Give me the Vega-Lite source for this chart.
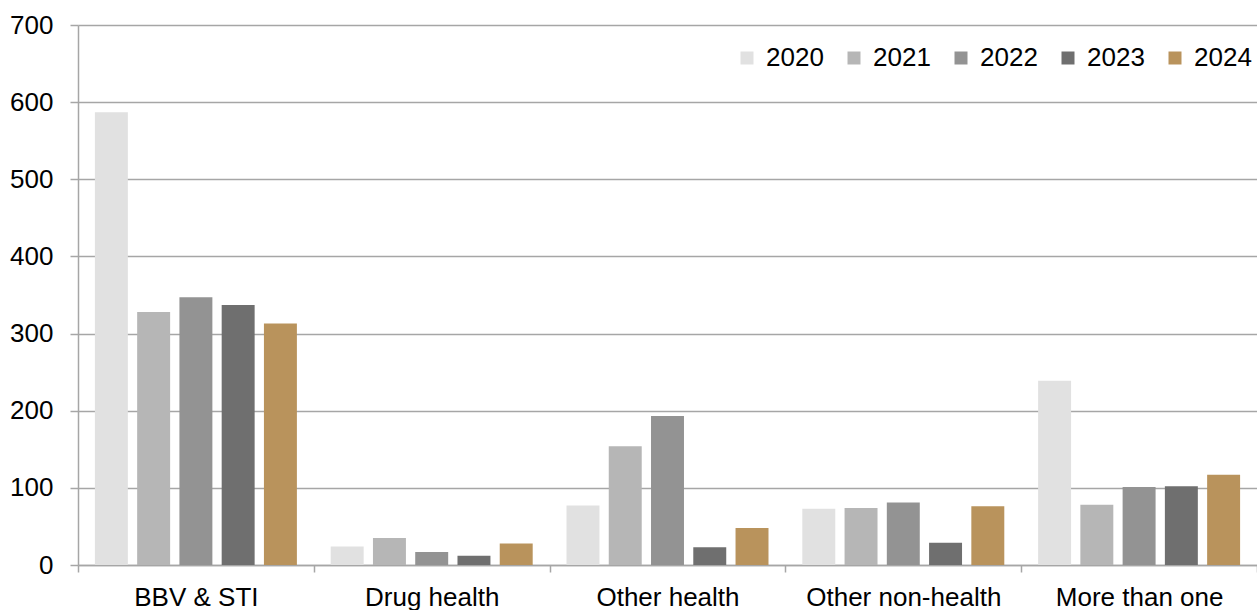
{
  "$schema": "https://vega.github.io/schema/vega-lite/v6.json",
  "width": 1179,
  "height": 540,
  "autosize": {"type": "none"},
  "padding": {"left": 78, "top": 25, "right": 0, "bottom": 45},
  "background": "white",
  "config": {
    "font": "Liberation Sans",
    "view": {"stroke": null},
    "axis": {
      "labelFont": "Liberation Sans",
      "labelFontSize": 26,
      "labelColor": "#000000",
      "labelLimit": 400,
      "domainColor": "#a6a6a6",
      "domainWidth": 1.5,
      "tickColor": "#a6a6a6",
      "tickWidth": 1.5,
      "gridColor": "#a6a6a6",
      "gridWidth": 1.5,
      "title": null
    }
  },
  "data": {
    "values": [
      {"category": "BBV & STI", "year": "2020", "count": 587},
      {"category": "BBV & STI", "year": "2021", "count": 328},
      {"category": "BBV & STI", "year": "2022", "count": 347},
      {"category": "BBV & STI", "year": "2023", "count": 337},
      {"category": "BBV & STI", "year": "2024", "count": 313},
      {"category": "Drug health", "year": "2020", "count": 24},
      {"category": "Drug health", "year": "2021", "count": 35},
      {"category": "Drug health", "year": "2022", "count": 17},
      {"category": "Drug health", "year": "2023", "count": 12},
      {"category": "Drug health", "year": "2024", "count": 28},
      {"category": "Other health", "year": "2020", "count": 77},
      {"category": "Other health", "year": "2021", "count": 154},
      {"category": "Other health", "year": "2022", "count": 193},
      {"category": "Other health", "year": "2023", "count": 23},
      {"category": "Other health", "year": "2024", "count": 48},
      {"category": "Other non-health", "year": "2020", "count": 73},
      {"category": "Other non-health", "year": "2021", "count": 74},
      {"category": "Other non-health", "year": "2022", "count": 81},
      {"category": "Other non-health", "year": "2023", "count": 29},
      {"category": "Other non-health", "year": "2024", "count": 76},
      {"category": "More than one", "year": "2020", "count": 239},
      {"category": "More than one", "year": "2021", "count": 78},
      {"category": "More than one", "year": "2022", "count": 101},
      {"category": "More than one", "year": "2023", "count": 102},
      {"category": "More than one", "year": "2024", "count": 117}
    ]
  },
  "mark": {"type": "bar"},
  "encoding": {
    "x": {
      "field": "category",
      "type": "nominal",
      "sort": ["BBV & STI", "Drug health", "Other health", "Other non-health", "More than one"],
      "scale": {"paddingInner": 0, "paddingOuter": 0},
      "axis": {
        "labelAngle": 0,
        "tickBand": "extent",
        "tickSize": 7,
        "labelPadding": 12,
        "grid": false
      }
    },
    "xOffset": {
      "field": "year",
      "type": "nominal",
      "scale": {"paddingInner": 0.22, "paddingOuter": 0.4}
    },
    "y": {
      "field": "count",
      "type": "quantitative",
      "scale": {"domain": [0, 700], "nice": false},
      "axis": {
        "values": [0, 100, 200, 300, 400, 500, 600, 700],
        "tickSize": 8,
        "labelPadding": 17,
        "grid": true
      }
    },
    "color": {
      "field": "year",
      "type": "nominal",
      "scale": {
        "domain": ["2020", "2021", "2022", "2023", "2024"],
        "range": ["#e1e1e1", "#b6b6b6", "#939393", "#6f6f6f", "#b9935c"]
      },
      "legend": {
        "title": null,
        "orient": "none",
        "direction": "horizontal",
        "legendX": 656,
        "legendY": 20,
        "symbolType": "square",
        "symbolSize": 169,
        "symbolStrokeWidth": 0,
        "labelFontSize": 26,
        "labelFont": "Liberation Sans",
        "labelColor": "#000000",
        "labelOffset": 6,
        "columnPadding": 17,
        "padding": 0
      }
    }
  }
}
